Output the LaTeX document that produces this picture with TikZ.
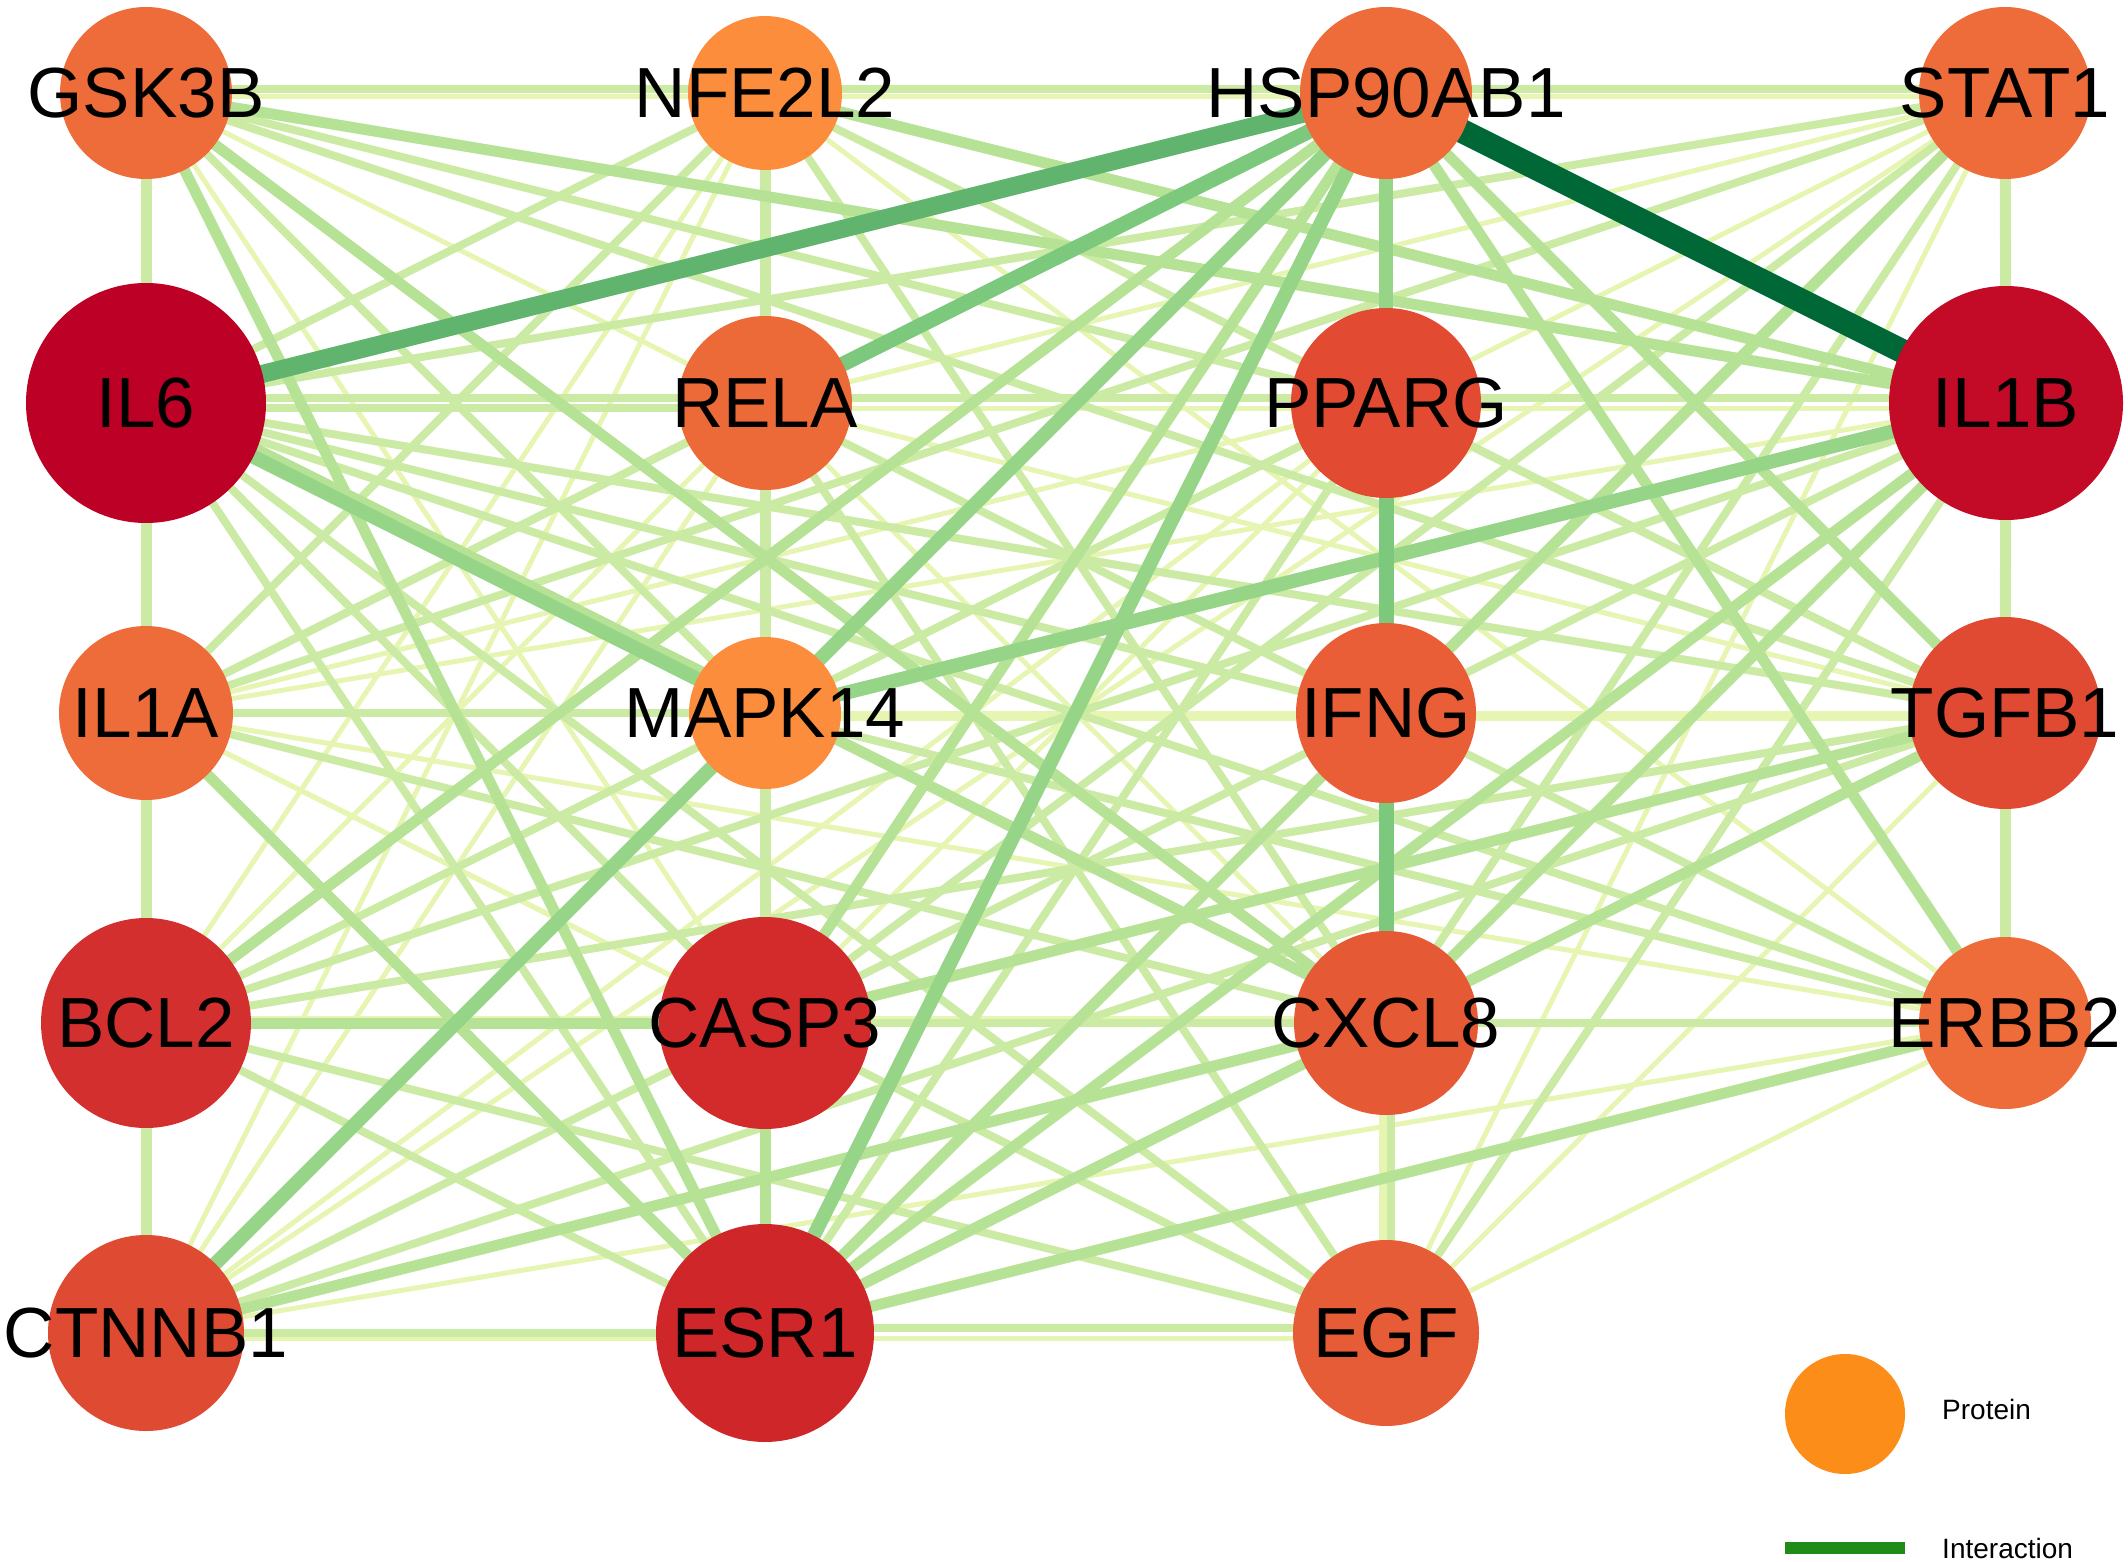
\documentclass[tikz,border=0pt]{standalone}
\usepackage{fontspec}
\setmainfont{Liberation Sans}
\usetikzlibrary{backgrounds}
\definecolor{E1}{RGB}{230,245,178}
\definecolor{E2}{RGB}{203,234,163}
\definecolor{E3}{RGB}{182,226,150}
\definecolor{E4}{RGB}{150,212,135}
\definecolor{E5}{RGB}{124,200,124}
\definecolor{E6}{RGB}{96,180,110}
\definecolor{E7}{RGB}{0,104,55}
\definecolor{cO1}{RGB}{238,108,58}
\definecolor{cO2}{RGB}{252,141,61}
\definecolor{cIL6}{RGB}{188,0,38}
\definecolor{cIL1B}{RGB}{195,11,40}
\definecolor{cRELA}{RGB}{236,106,56}
\definecolor{cPPARG}{RGB}{226,75,49}
\definecolor{cIFNG}{RGB}{233,94,54}
\definecolor{cTGFB1}{RGB}{224,74,50}
\definecolor{cBCL2}{RGB}{211,47,46}
\definecolor{cCASP3}{RGB}{211,43,44}
\definecolor{cCXCL8}{RGB}{229,90,53}
\definecolor{cCTNNB1}{RGB}{223,74,50}
\definecolor{cESR1}{RGB}{207,38,41}
\definecolor{cEGF}{RGB}{230,92,54}
\definecolor{cLeg}{RGB}{253,141,25}
\definecolor{cLegLine}{RGB}{30,140,22}
\newcommand\nlab[1]{\makebox[0pt]{#1}}
\begin{document}
\begin{tikzpicture}[x=1pt,y=-1pt,
  nd/.style={circle,draw=none,inner sep=0pt,text=black,font=\fontsize{71}{80}\selectfont},
  e1/.style={draw=E1,line width=5pt},
  e2/.style={draw=E2,line width=8pt},
  e2v/.style={draw=E2,line width=11pt},
  e3/.style={draw=E3,line width=11pt},
  e4/.style={draw=E4,line width=14pt},
  e5/.style={draw=E5,line width=15pt},
  e6/.style={draw=E6,line width=18pt},
  e7/.style={draw=E7,line width=24pt},
  legtext/.style={anchor=west,inner sep=0pt,font=\fontsize{28}{32}\selectfont}]
\useasboundingbox (0,0) rectangle (2128,1562);
% nodes
\node[nd,minimum size=172pt,fill=cO1] (A) at (146,93) {\nlab{GSK3B}};
\node[nd,minimum size=154pt,fill=cO2] (B) at (765,93) {\nlab{NFE2L2}};
\node[nd,minimum size=172pt,fill=cO1] (C) at (1386,93) {\nlab{HSP90AB1}};
\node[nd,minimum size=172pt,fill=cO1] (D) at (2005,93) {\nlab{STAT1}};
\node[nd,minimum size=240pt,fill=cIL6] (E) at (146,403) {\nlab{IL6}};
\node[nd,minimum size=174pt,fill=cRELA] (F) at (765,403) {\nlab{RELA}};
\node[nd,minimum size=190pt,fill=cPPARG] (G) at (1386,403) {\nlab{PPARG}};
\node[nd,minimum size=234pt,fill=cIL1B] (H) at (2006,403) {\nlab{IL1B}};
\node[nd,minimum size=174pt,fill=cO1] (I) at (146,713) {\nlab{IL1A}};
\node[nd,minimum size=152pt,fill=cO2] (J) at (765,713) {\nlab{MAPK14}};
\node[nd,minimum size=180pt,fill=cIFNG] (K) at (1386,713) {\nlab{IFNG}};
\node[nd,minimum size=192pt,fill=cTGFB1] (L) at (2005,713) {\nlab{TGFB1}};
\node[nd,minimum size=210pt,fill=cBCL2] (M) at (146,1023) {\nlab{BCL2}};
\node[nd,minimum size=212pt,fill=cCASP3] (N) at (765,1023) {\nlab{CASP3}};
\node[nd,minimum size=184pt,fill=cCXCL8] (O) at (1386,1023) {\nlab{CXCL8}};
\node[nd,minimum size=172pt,fill=cO1] (P) at (2005,1023) {\nlab{ERBB2}};
\node[nd,minimum size=196pt,fill=cCTNNB1] (Q) at (146,1333) {\nlab{CTNNB1}};
\node[nd,minimum size=218pt,fill=cESR1] (R) at (765,1333) {\nlab{ESR1}};
\node[nd,minimum size=186pt,fill=cEGF] (S) at (1386,1333) {\nlab{EGF}};
% legend
\node[circle,draw=none,fill=cLeg,minimum size=120pt,inner sep=0pt] (lp) at (1845,1414) {};
\node[legtext] (lpt) at (1942,1409) {Protein};
\coordinate (li1) at (1785,1548);
\coordinate (li2) at (1905,1548);
\draw[cLegLine,line width=12pt] (li1) -- (li2);
\node[legtext] (lit) at (1942,1548) {Interaction};
% edges
\begin{scope}[on background layer]
% pale
\draw[e1] ([yshift=-4pt]A.center) -- ([yshift=-4pt]C.center);
\draw[e1] ([yshift=-4pt]B.center) -- ([yshift=-4pt]D.center);
\foreach \u/\v in {A/P,A/N,B/P,B/Q,B/M,D/F,D/S,D/J,D/Q,F/O,F/Q,F/M,F/L,G/J,G/I,G/N,G/S,H/I,I/N,I/P,I/S,J/K,K/L,L/S,N/P,P/S,P/Q,G/Q}
  \draw[e1] (\u.center) -- (\v.center);
\draw[e1] ([yshift=-5pt]J.center) -- ([yshift=-5pt]L.center);
\draw[e1] ([yshift=-5pt]F.center) -- ([yshift=-5pt]H.center);
\draw[e1] ([yshift=-5pt]Q.center) -- ([yshift=-5pt]S.center);
\draw[e1] ([yshift=5pt]M.center) -- ([yshift=5pt]O.center);
\draw[e1] ([xshift=-5pt]O.center) -- ([xshift=-5pt]S.center);
% light
\draw[e2] ([yshift=4pt]A.center) -- ([yshift=4pt]B.center);
\draw[e2] ([yshift=4pt]B.center) -- ([yshift=4pt]C.center);
\draw[e2] ([yshift=4pt]C.center) -- ([yshift=4pt]D.center);
\draw[e2] ([yshift=5pt]E.center) -- ([yshift=5pt]H.center);
\draw[e2] ([yshift=-5pt]E.center) -- ([yshift=-5pt]F.center);
\foreach \u/\v in {A/E,E/I,I/M,M/Q,B/F,F/J,J/N,D/H,H/L,L/P}
  \draw[e2v] (\u.center) -- (\v.center);
\foreach \u/\v in {A/G,A/L,A/J,B/L,B/O,B/E,B/I,C/I,D/E,D/I,D/N,D/O,E/K,E/L,E/P,E/N,E/R,E/S,F/P,F/S,F/I,G/L,G/M,G/R,H/S,H/Q,H/M,I/J,I/O,J/P,L/Q,L/M,M/R,M/S,N/O,N/S,O/P,Q/R}
  \draw[e2] (\u.center) -- (\v.center);
\draw[e2] ([xshift=5pt]O.center) -- ([xshift=5pt]S.center);
\draw[e2] ([yshift=5pt]R.center) -- ([yshift=5pt]S.center);
% medium-light
\foreach \u/\v in {A/H,A/O,A/R,B/H,C/N,C/M,C/L,C/P,D/R,H/R,H/O,I/R,L/N,M/N,N/R,O/Q,P/R,L/R}
  \draw[e3] (\u.center) -- (\v.center);
\draw[e3] ([shift={(4,-7)}]E.center) -- ([shift={(4,-7)}]O.center);
% medium
\foreach \u/\v in {C/G,C/Q,C/R,H/J,E/J}
  \draw[e4] (\u.center) -- (\v.center);
\foreach \u/\v in {C/F,G/K,K/O}
  \draw[e5] (\u.center) -- (\v.center);
\draw[e6] (C.center) -- (E.center);
\draw[e7] (C.center) -- (H.center);
\end{scope}
\end{tikzpicture}
\end{document}
